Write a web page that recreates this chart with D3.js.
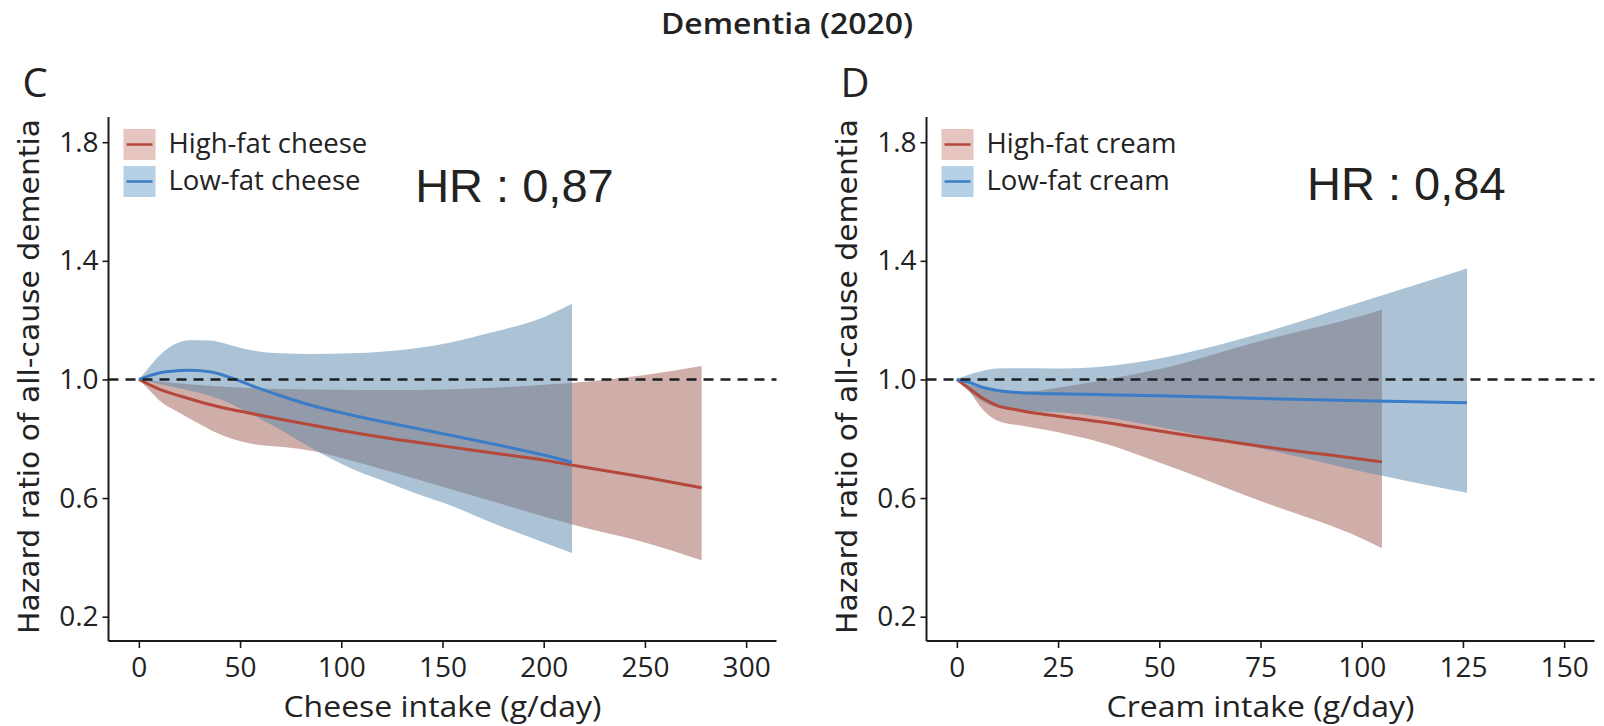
<!DOCTYPE html>
<html>
<head>
<meta charset="utf-8">
<script src="https://cdn.jsdelivr.net/npm/d3@7"></script>
<style>
  body { margin: 0; background: #fff; }
  text { font-family: 'Open Sans', sans-serif; fill: #222; }
</style>
</head>
<body>
<div id="chart"></div>
<script>
// ---- data ----
const yTicks = [0.2, 0.6, 1.0, 1.4, 1.8];
const cheeseTicks = [0, 50, 100, 150, 200, 250, 300];
const creamTicks = [0, 25, 50, 75, 100, 125, 150];

// high-fat cheese
const hfCheeseDose = [0, 5, 10, 20, 30, 40, 55, 70, 88, 100, 125, 150, 175, 200, 215, 250, 278];
const hfCheeseHR = [1.0, 0.983, 0.967, 0.945, 0.925, 0.907, 0.886, 0.866, 0.843, 0.828, 0.8, 0.776, 0.752, 0.728, 0.71, 0.67, 0.635];
const hfCheeseLo = [1.0, 0.965, 0.93, 0.888, 0.85, 0.815, 0.784, 0.773, 0.756, 0.735, 0.688, 0.638, 0.588, 0.538, 0.509, 0.45, 0.39];
const hfCheeseHi = [1.0, 0.997, 0.993, 0.987, 0.981, 0.976, 0.971, 0.968, 0.966, 0.965, 0.964, 0.966, 0.972, 0.982, 0.989, 1.015, 1.045];

// low-fat cheese
const lfCheeseDose = [0, 5, 10, 15, 25, 35, 45, 55, 70, 85, 105, 120, 137, 154, 175, 200, 214];
const lfCheeseHR = [1.0, 1.012, 1.022, 1.027, 1.031, 1.026, 1.007, 0.981, 0.945, 0.913, 0.88, 0.858, 0.835, 0.812, 0.782, 0.745, 0.72];
const lfCheeseLo = [1.0, 0.993, 0.985, 0.978, 0.963, 0.945, 0.92, 0.885, 0.83, 0.77, 0.7, 0.66, 0.615, 0.575, 0.515, 0.45, 0.415];
const lfCheeseHi = [1.0, 1.04, 1.08, 1.108, 1.132, 1.131, 1.116, 1.099, 1.088, 1.086, 1.088, 1.093, 1.105, 1.125, 1.16, 1.21, 1.255];

// high-fat cream
const hfCreamDose = [0, 2.5, 6.5, 10, 15, 20, 25, 35, 50, 75, 100, 105];
const hfCreamHR = [1.0, 0.975, 0.936, 0.912, 0.897, 0.885, 0.876, 0.858, 0.826, 0.775, 0.731, 0.722];
const hfCreamLo = [1.0, 0.97, 0.897, 0.861, 0.846, 0.835, 0.822, 0.79, 0.72, 0.59, 0.464, 0.431];
const hfCreamHi = [1.0, 0.985, 0.97, 0.962, 0.958, 0.962, 0.972, 0.995, 1.035, 1.13, 1.215, 1.235];

// low-fat cream
const lfCreamDose = [0, 2.5, 6.5, 10, 15, 20, 27, 35, 50, 75, 100, 126];
const lfCreamHR = [1.0, 0.992, 0.973, 0.963, 0.956, 0.953, 0.951, 0.949, 0.945, 0.936, 0.928, 0.921];
const lfCreamLo = [1.0, 0.965, 0.925, 0.905, 0.895, 0.892, 0.888, 0.876, 0.84, 0.768, 0.69, 0.618];
const lfCreamHi = [1.0, 1.014, 1.029, 1.037, 1.038, 1.038, 1.037, 1.042, 1.071, 1.155, 1.262, 1.374];

const redLine = '#b5483b', blueLine = '#3b7cc6';
const redFill = 'rgb(160,92,84)', blueFill = 'rgb(88,136,170)';
const redKey = '#e6c4bf', blueKey = '#b6d0e6';

const rows = (dose, hr, lo, hi) => dose.map((d, i) => ({ dose: d, hr: hr[i], lo: lo[i], hi: hi[i] }));

const W = 1604, H = 726;
const svg = d3.select('#chart').append('svg').attr('width', W).attr('height', H);

svg.append('text')
  .attr('x', 787).attr('y', 34)
  .attr('text-anchor', 'middle')
  .attr('textLength', 252).attr('lengthAdjust', 'spacingAndGlyphs')
  .style('font-size', '29px').style('font-weight', 600)
  .text('Dementia (2020)');

const y = d3.scaleLinear().domain([0.118, 1.885]).range([641, 117]);

function drawPanel(opt) {
  const x = d3.scaleLinear().domain(opt.domain).range(opt.range);
  const g = svg.append('g');
  const x0 = opt.range[0];

  // bands
  const area = d3.area().curve(d3.curveMonotoneX)
    .x(d => x(d.dose)).y0(d => y(d.lo)).y1(d => y(d.hi));
  const line = d3.line().curve(d3.curveMonotoneX)
    .x(d => x(d.dose)).y(d => y(d.hr));

  g.append('path').datum(opt.high).attr('d', area)
    .attr('fill', redFill).attr('fill-opacity', 0.5);
  g.append('path').datum(opt.low).attr('d', area)
    .attr('fill', blueFill).attr('fill-opacity', 0.5);
  g.append('path').datum(opt.high).attr('d', line)
    .attr('fill', 'none').attr('stroke', redLine).attr('stroke-width', 3);
  g.append('path').datum(opt.low).attr('d', line)
    .attr('fill', 'none').attr('stroke', blueLine).attr('stroke-width', 3);

  // reference line at HR = 1
  g.append('line')
    .attr('x1', opt.range[0]).attr('x2', opt.range[1])
    .attr('y1', y(1)).attr('y2', y(1))
    .attr('stroke', '#1b1e22').attr('stroke-width', 2.5)
    .attr('stroke-dasharray', '10,7');

  // axes
  const yAxis = g.append('g').attr('transform', `translate(${x0},0)`)
    .call(d3.axisLeft(y).tickValues(yTicks).tickFormat(d3.format('.1f')).tickSize(6).tickPadding(4));
  const xAxis = g.append('g').attr('transform', `translate(0,${y.range()[0]})`)
    .call(d3.axisBottom(x).tickValues(opt.ticks).tickSize(7).tickPadding(9));
  [yAxis, xAxis].forEach(a => {
    a.select('.domain').attr('stroke', '#1a1a1a').attr('stroke-width', 2);
    a.selectAll('.tick line').attr('stroke', '#1a1a1a').attr('stroke-width', 1.6);
    a.selectAll('.tick text').style('font-size', '28px').style('font-family', "'Open Sans', sans-serif").attr('fill', '#333');
  });
  // ggplot-style axis lines without end caps
  yAxis.select('.domain').attr('d', `M0,${y.range()[1]}V${y.range()[0]}`);
  xAxis.select('.domain').attr('d', `M${opt.range[0]},0H${opt.range[1]}`);

  // axis titles
  g.append('text')
    .attr('x', (opt.range[0] + opt.range[1]) / 2).attr('y', 717)
    .attr('text-anchor', 'middle')
    .attr('textLength', opt.xTitleLen).attr('lengthAdjust', 'spacingAndGlyphs')
    .style('font-size', '29px')
    .text(opt.xTitle);
  g.append('text')
    .attr('transform', `translate(${x0 - 70},376.5) rotate(-90)`)
    .attr('text-anchor', 'middle')
    .attr('textLength', 515).attr('lengthAdjust', 'spacingAndGlyphs')
    .style('font-family', "'DejaVu Sans', sans-serif")
    .style('font-size', '28px')
    .text('Hazard ratio of all-cause dementia');

  // panel letter
  svg.append('text')
    .attr('x', x0 - 86).attr('y', 97)
    .style('font-size', '40px')
    .text(opt.letter);

  // legend
  const keys = [
    { label: opt.highLabel, fill: redKey, stroke: redLine },
    { label: opt.lowLabel, fill: blueKey, stroke: blueLine },
  ];
  const leg = g.append('g').attr('transform', `translate(${x0 + 15},129)`);
  const item = leg.selectAll('g').data(keys).join('g')
    .attr('transform', (d, i) => `translate(0,${i * 37})`);
  item.append('rect').attr('width', 32).attr('height', 31).attr('fill', d => d.fill);
  item.append('line').attr('x1', 3).attr('x2', 29).attr('y1', 15.5).attr('y2', 15.5)
    .attr('stroke', d => d.stroke).attr('stroke-width', 2.5);
  item.append('text').attr('x', 45).attr('y', 24)
    .style('font-size', '27.5px')
    .text(d => d.label);

  // HR annotation
  g.append('text')
    .attr('x', x(opt.hrAt)).attr('y', y(opt.hrY))
    .style('font-family', "'Liberation Sans', Arial, sans-serif")
    .style('font-size', '47px')
    .attr('fill', '#000')
    .text(opt.hrText);
}

drawPanel({
  letter: 'C',
  domain: [-15, 315], range: [108.5, 776.5], ticks: cheeseTicks,
  high: rows(hfCheeseDose, hfCheeseHR, hfCheeseLo, hfCheeseHi),
  low: rows(lfCheeseDose, lfCheeseHR, lfCheeseLo, lfCheeseHi),
  highLabel: 'High-fat cheese', lowLabel: 'Low-fat cheese',
  xTitle: 'Cheese intake (g/day)', xTitleLen: 318,
  hrText: 'HR : 0,87', hrAt: 136.5, hrY: 1.6,
});

drawPanel({
  letter: 'D',
  domain: [-7.5, 157.5], range: [926.5, 1594.5], ticks: creamTicks,
  high: rows(hfCreamDose, hfCreamHR, hfCreamLo, hfCreamHi),
  low: rows(lfCreamDose, lfCreamHR, lfCreamLo, lfCreamHi),
  highLabel: 'High-fat cream', lowLabel: 'Low-fat cream',
  xTitle: 'Cream intake (g/day)', xTitleLen: 308,
  hrText: 'HR : 0,84', hrAt: 86.5, hrY: 1.606,
});
</script>
</body>
</html>
